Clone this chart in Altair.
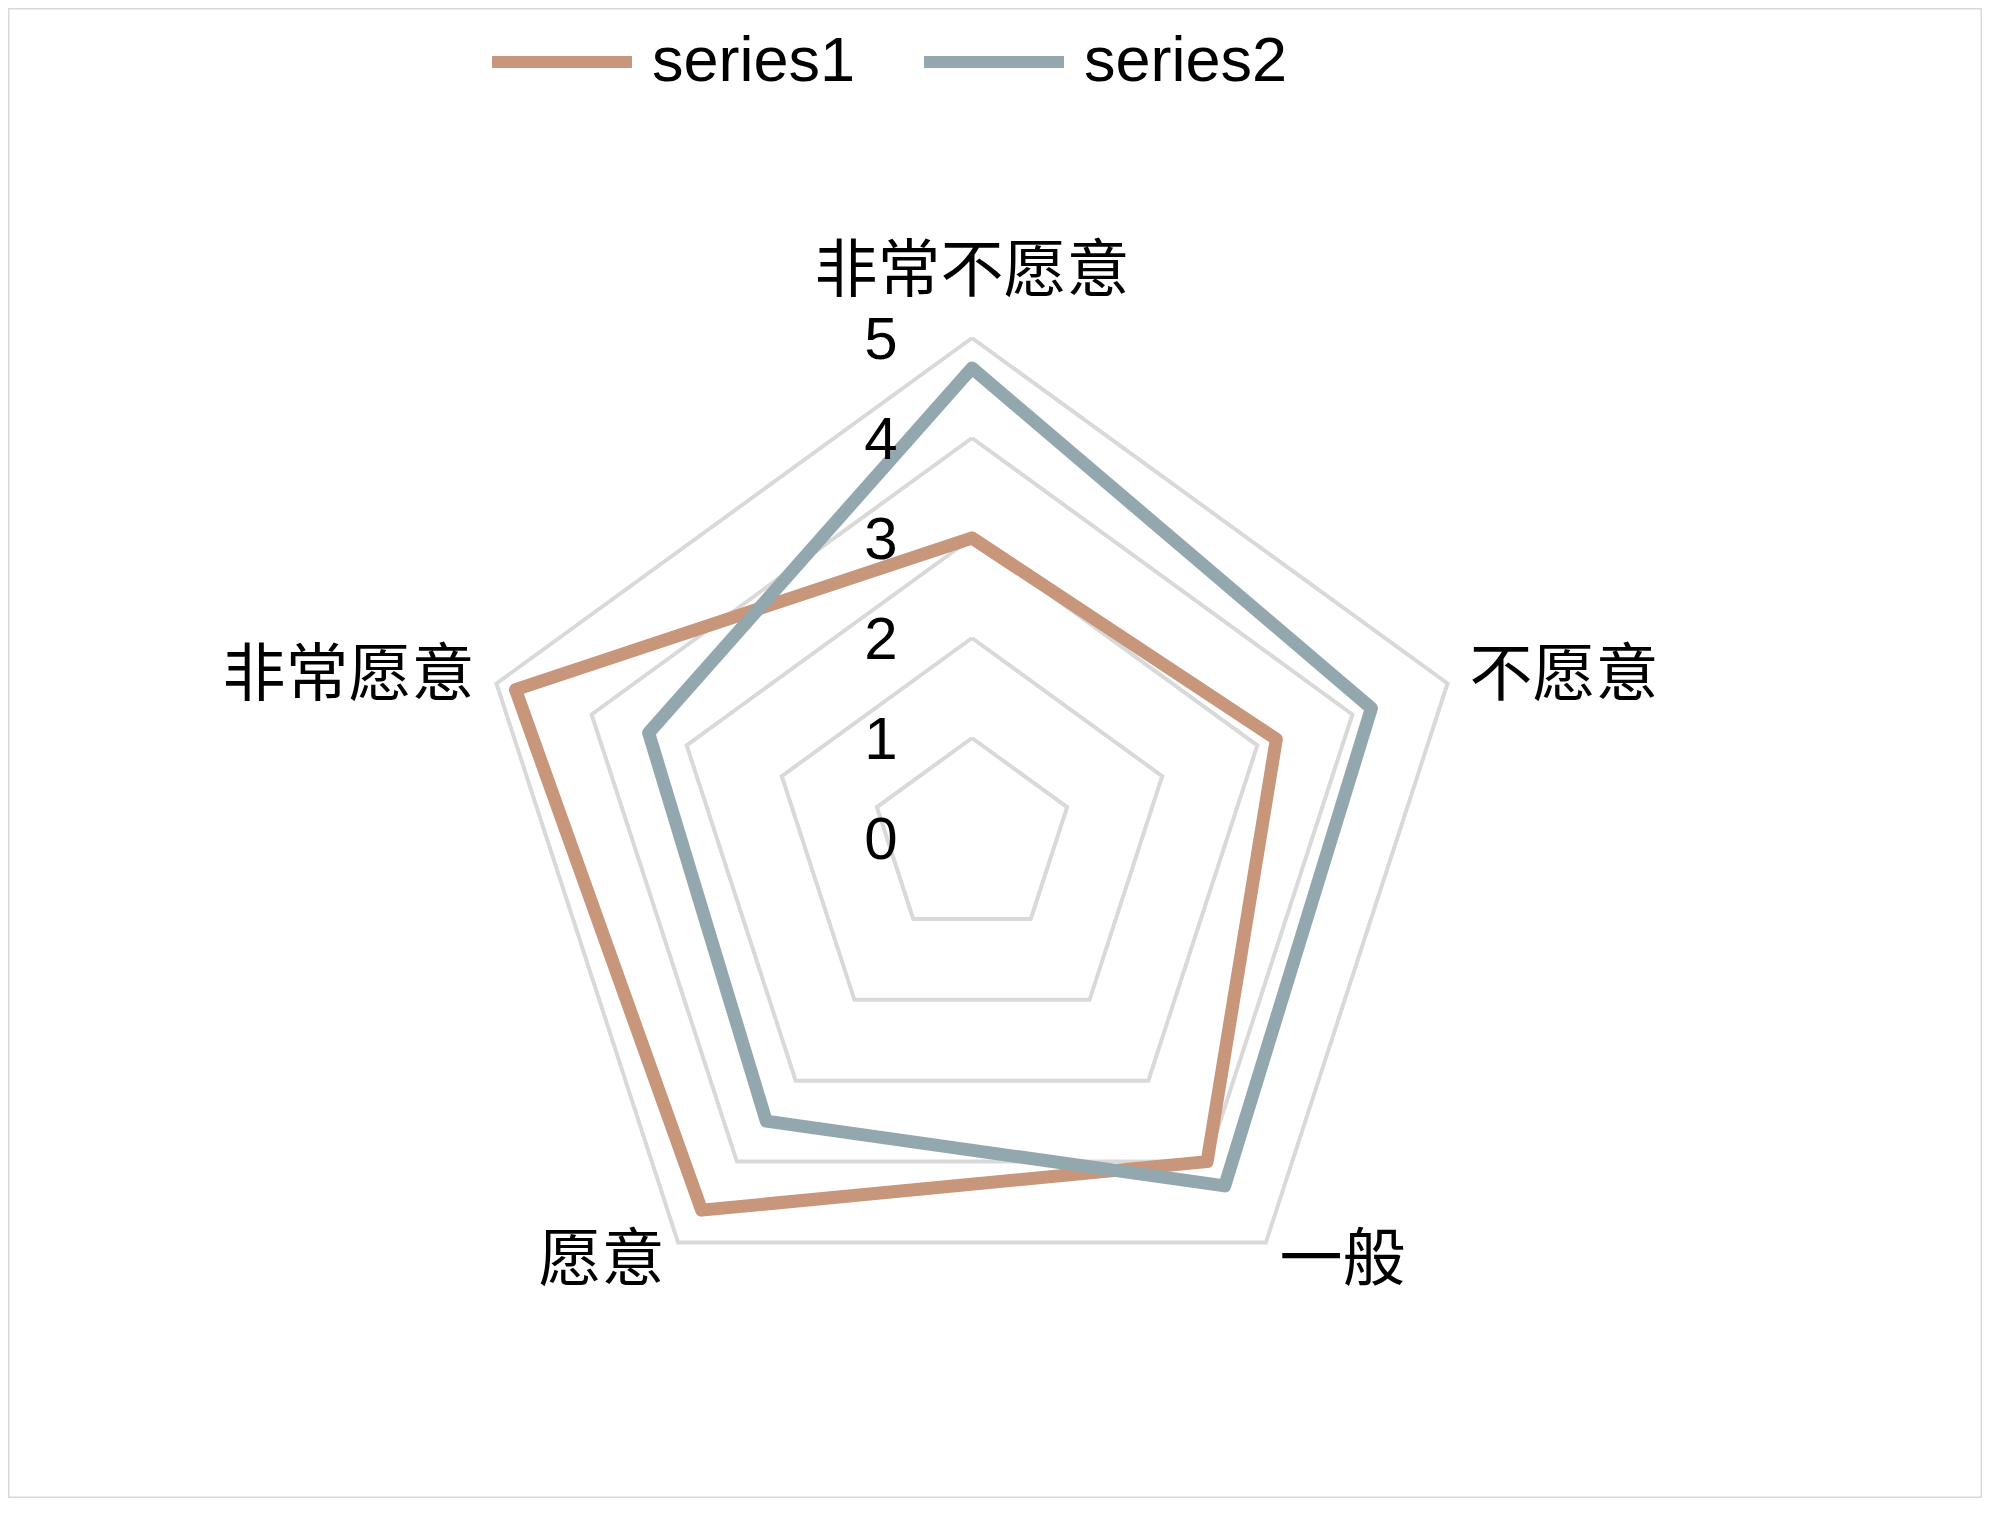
import altair as alt
import pandas as pd

# ---- data ----
categories = ["非常不愿意", "不愿意", "一般", "愿意", "非常愿意"]
series1 = [3.0, 3.2, 4.0, 4.6, 4.8]
series2 = [4.7, 4.2, 4.3, 3.5, 3.4]
series_names = ["series1", "series2"]
series_colors = ["#C8967A", "#93A8AE"]
ring_levels = [1, 2, 3, 4, 5]
tick_values = [0, 1, 2, 3, 4, 5]

n = len(categories)

# closed polygons for each series (first category repeated at the end)
rows = []
for name, vals in zip(series_names, [series1, series2]):
    for k in range(n + 1):
        i = k % n
        rows.append({"series": name, "category": categories[i], "idx": i,
                     "order": k, "value": vals[i]})
series_df = pd.DataFrame(rows)

ring_rows = []
for lv in ring_levels:
    for k in range(n + 1):
        ring_rows.append({"ring": lv, "idx": k % n, "order": k, "value": lv})
ring_df = pd.DataFrame(ring_rows)

label_df = pd.DataFrame({"category": categories, "idx": list(range(n)),
                         "value": [max(tick_values)] * n})
tick_df = pd.DataFrame({"tick": tick_values})

W, H = 1974, 1490
xs = alt.Scale(domain=[-9.64, 10.10], nice=False, zero=False)
ys = alt.Scale(domain=[-6.60, 8.30], nice=False, zero=False)
LABEL_PAD = 0.23


def polar(ch, extra=0.0):
    return ch.transform_calculate(
        ang=f"datum.idx * 2 * PI / {n}"
    ).transform_calculate(
        px=f"(datum.value + {extra}) * sin(datum.ang)",
        py=f"(datum.value + {extra}) * cos(datum.ang)",
    )


rings = polar(alt.Chart(ring_df).mark_line(
    color="#D9D9D9", strokeWidth=4, strokeJoin="miter")).encode(
    x=alt.X("px:Q", scale=xs, axis=None),
    y=alt.Y("py:Q", scale=ys, axis=None),
    detail="ring:N",
    order="order:Q",
)

lines = polar(alt.Chart(series_df).mark_line(
    strokeWidth=13, strokeJoin="round", strokeCap="round")).encode(
    x=alt.X("px:Q", scale=xs, axis=None),
    y=alt.Y("py:Q", scale=ys, axis=None),
    color=alt.Color("series:N",
                    scale=alt.Scale(domain=series_names, range=series_colors),
                    legend=alt.Legend(title=None, orient="none", direction="horizontal",
                                      legendX=478, legendY=-22,
                                      symbolType="stroke", symbolSize=19600,
                                      symbolStrokeWidth=12,
                                      labelFont="Liberation Sans", labelFontSize=63,
                                      labelColor="#000000", labelOffset=14,
                                      labelLimit=0,
                                      columnPadding=44, padding=0)),
    order="order:Q",
    detail="series:N",
)

ticks = alt.Chart(tick_df).transform_calculate(zero="0").mark_text(
    font="Liberation Sans", fontSize=60, color="#000000",
    align="center", baseline="middle", dx=-91, dy=3).encode(
    x=alt.X("zero:Q", scale=xs, axis=None),
    y=alt.Y("tick:Q", scale=ys, axis=None),
    text=alt.Text("tick:Q"),
)


def cat_layer(filter_expr, align, dy=0):
    return polar(alt.Chart(label_df).transform_filter(filter_expr).mark_text(
        font="Noto Sans CJK SC", fontSize=63, color="#000000",
        align=align, baseline="middle", dy=dy), LABEL_PAD).encode(
        x=alt.X("px:Q", scale=xs, axis=None),
        y=alt.Y("py:Q", scale=ys, axis=None),
        text="category:N",
    )


cat_top = cat_layer("datum.idx == 0", "center", dy=-43)
cat_right = cat_layer("datum.idx == 1 || datum.idx == 2", "left")
cat_left = cat_layer("datum.idx == 3 || datum.idx == 4", "right")

chart = alt.layer(rings, lines, ticks, cat_top, cat_right, cat_left).properties(
    width=W, height=H, padding=0, autosize=alt.AutoSizeParams(type="none"),
    background="#FFFFFF",
).configure_view(stroke="#D9D9D9", strokeWidth=3)

chart.save("out.html", embed_options={"renderer": "svg", "actions": False})
